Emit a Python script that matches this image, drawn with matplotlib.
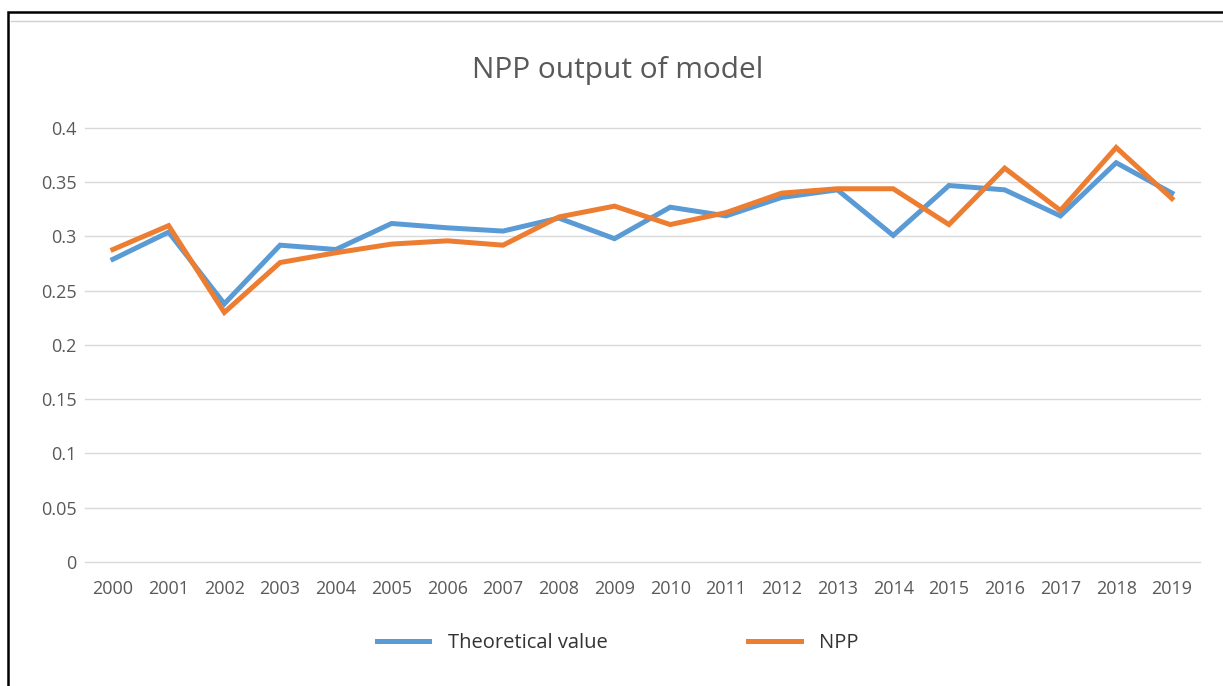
import matplotlib

matplotlib.use("Agg")
import matplotlib.pyplot as plt
from matplotlib.lines import Line2D
from matplotlib.patches import Rectangle

years = [str(y) for y in range(2000, 2020)]
theoretical = [0.279, 0.304, 0.238, 0.292, 0.288, 0.312, 0.308, 0.305, 0.317, 0.298,
               0.327, 0.319, 0.336, 0.343, 0.301, 0.347, 0.343, 0.319, 0.368, 0.340]
npp = [0.288, 0.310, 0.230, 0.276, 0.285, 0.293, 0.296, 0.292, 0.318, 0.328,
       0.311, 0.322, 0.340, 0.344, 0.344, 0.311, 0.363, 0.324, 0.382, 0.335]
y_ticks = [0, 0.05, 0.1, 0.15, 0.2, 0.25, 0.3, 0.35, 0.4]
y_tick_labels = ["0", "0.05", "0.1", "0.15", "0.2", "0.25", "0.3", "0.35", "0.4"]

BLUE = "#5B9BD5"
ORANGE = "#ED7D31"
GREY_TEXT = "#595959"

plt.rcParams["font.family"] = ["Open Sans", "DejaVu Sans"]

fig = plt.figure(figsize=(12.23, 6.86), dpi=100)
ax = fig.add_axes([0.0695, 0.1808, 0.9115, 0.6326])

x = list(range(len(years)))
ax.plot(x, theoretical, color=BLUE, lw=3.6, solid_joinstyle="miter")
ax.plot(x, npp, color=ORANGE, lw=3.6, solid_joinstyle="miter")

ax.set_xlim(-0.5, len(years) - 0.5)
ax.set_ylim(0, 0.4)
ax.set_xticks(x)
ax.set_xticklabels(years)
ax.set_yticks(y_ticks)
ax.set_yticklabels(y_tick_labels)
ax.tick_params(length=0, labelsize=13, colors=GREY_TEXT, pad=6)
ax.tick_params(axis="x", pad=13)
ax.grid(axis="y", color="#D9D9D9", lw=1)
for gl in ax.get_ygridlines():
    gl.set_clip_on(False)
ax.set_axisbelow(True)
for spine in ax.spines.values():
    spine.set_visible(False)

fig.text(0.505, 0.897, "NPP output of model", ha="center", va="center",
         fontsize=21.5, color=GREY_TEXT)

handles = [Line2D([], [], color=BLUE, lw=3.6), Line2D([], [], color=ORANGE, lw=3.6)]
fig.legend(handles, ["Theoretical value", "NPP"], loc="center",
           bbox_to_anchor=(0.505, 0.063), ncol=2, frameon=False, fontsize=14.5,
           handlelength=2.6, handletextpad=0.9, columnspacing=7,
           labelcolor="#333333")

# outer frame of the screenshot
fig.patches.append(Rectangle((0.0065, -0.2), 1.2, 1.1825, transform=fig.transFigure,
                             fill=False, ec="black", lw=1.8))
fig.add_artist(Line2D([0.009, 1.0], [0.9695, 0.9695], transform=fig.transFigure,
                      color="#D0D0D0", lw=1))

fig.savefig("out.png", dpi=100)
